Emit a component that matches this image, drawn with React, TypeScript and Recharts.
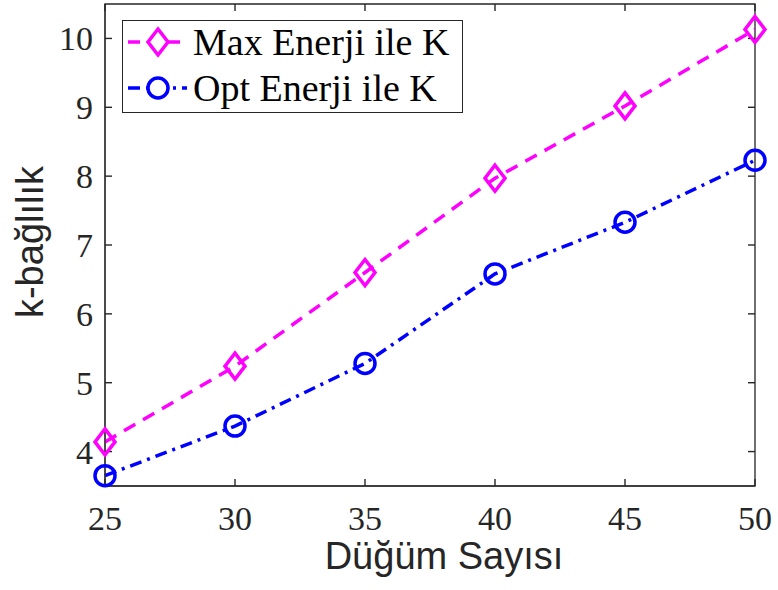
import React from 'react';
import { LineChart, Line, XAxis, YAxis, ReferenceLine, ReferenceArea } from 'recharts';

const nodeCounts = [25, 30, 35, 40, 45, 50];
const maxEnerjiK = [4.14, 5.24, 6.6, 7.97, 9.02, 10.13];
const optEnerjiK = [3.65, 4.37, 5.28, 6.58, 7.33, 8.23];
const xTicks = [25, 30, 35, 40, 45, 50];
const yTicks = [4, 5, 6, 7, 8, 9, 10];
const seriesNames = ['Max Enerji ile K', 'Opt Enerji ile K'];

const X_DOMAIN: [number, number] = [25, 50];
const Y_DOMAIN: [number, number] = [3.5, 10.5];

const data = nodeCounts.map((n, i) => ({ n, maxK: maxEnerjiK[i], optK: optEnerjiK[i] }));

const MAGENTA = '#FF00FF';
const BLUE = '#0000FF';
const AXIS = '#262626';
const SERIF = '"Liberation Serif", "Times New Roman", serif';
const SANS = '"Liberation Sans", Arial, sans-serif';
const TICK_FONT = 34;

const PLOT_W = 650;
const PLOT_H = 482;
const TICK_PX = 7;
const xTickLen = (TICK_PX * (X_DOMAIN[1] - X_DOMAIN[0])) / PLOT_W;
const yTickLen = (TICK_PX * (Y_DOMAIN[1] - Y_DOMAIN[0])) / PLOT_H;

const Diamond = (props: any) => {
  const { cx, cy, index } = props;
  if (cx == null || cy == null) return null;
  return (
    <path
      key={`d-${index}`}
      d={`M${cx},${cy - 13} L${cx + 10},${cy} L${cx},${cy + 13} L${cx - 10},${cy} Z`}
      fill="none"
      stroke={MAGENTA}
      strokeWidth={3.5}
    />
  );
};

const Circ = (props: any) => {
  const { cx, cy, index } = props;
  if (cx == null || cy == null) return null;
  return <circle key={`c-${index}`} cx={cx} cy={cy} r={10} fill="none" stroke={BLUE} strokeWidth={3.5} />;
};

const BottomTick = (props: any) => {
  const { x, y, payload } = props;
  return (
    <text x={x} y={y} dy="0.71em" textAnchor="middle" fontFamily={SERIF} fontSize={TICK_FONT} fill={AXIS}>
      {payload.value}
    </text>
  );
};

const LeftTick = (props: any) => {
  const { x, y, payload } = props;
  return (
    <text x={x} y={y} dy="0.355em" textAnchor="end" fontFamily={SERIF} fontSize={TICK_FONT} fill={AXIS}>
      {payload.value}
    </text>
  );
};

const LegendBox = () => (
  <div
    style={{
      position: 'absolute',
      left: 122,
      top: 20,
      width: 341,
      height: 93,
      boxSizing: 'border-box',
      border: `1.3px solid ${AXIS}`,
      background: '#fff',
    }}
  >
    <svg width={339} height={91} style={{ display: 'block' }}>
      <line x1={5} x2={64} y1={21} y2={21} stroke={MAGENTA} strokeWidth={3.5} strokeDasharray="12 8" />
      <path d="M35,8 L45,21 L35,34 L25,21 Z" fill="#fff" stroke={MAGENTA} strokeWidth={3.5} />
      <text x={70} y={34} fontFamily={SERIF} fontSize={38} fill="#000">{seriesNames[0]}</text>
      <line x1={5} x2={64} y1={67} y2={67} stroke={BLUE} strokeWidth={3.5} strokeDasharray="12 6 3 6" />
      <circle cx={35} cy={67} r={10} fill="#fff" stroke={BLUE} strokeWidth={3.5} />
      <text x={70} y={80} fontFamily={SERIF} fontSize={38} fill="#000">{seriesNames[1]}</text>
    </svg>
  </div>
);

const XTitle = (props: any) => {
  const vb = props.viewBox || {};
  return (
    <text x={vb.x + vb.width / 2 + 14} y={569} textAnchor="middle" fontFamily={SANS} fontSize={38} fill={AXIS}>
      Düğüm Sayısı
    </text>
  );
};

const YTitle = () => {
  const cx = 30;
  const cy = 242;
  return (
    <text
      x={cx}
      y={cy}
      transform={`rotate(-90, ${cx}, ${cy})`}
      textAnchor="middle"
      dominantBaseline="central"
      fontFamily={SANS}
      fontSize={38}
      fill={AXIS}
    >
      k-bağlılık
    </text>
  );
};

export default function App() {
  return (
    <div style={{ position: 'absolute', left: 0, top: 0, width: 778, height: 590, background: '#fff' }}>
      <LineChart width={778} height={590} data={data} margin={{ top: 4, right: 23, left: 0, bottom: 0 }}>
        <XAxis
          xAxisId="b"
          dataKey="n"
          type="number"
          domain={X_DOMAIN}
          ticks={xTicks}
          interval={0}
          height={104}
          stroke={AXIS}
          tickLine={false}
          tickSize={0}
          tickMargin={20}
          tick={<BottomTick />}
          label={<XTitle />}
        />
        <YAxis
          yAxisId="l"
          type="number"
          domain={Y_DOMAIN}
          ticks={yTicks}
          interval={0}
          width={105}
          stroke={AXIS}
          tickLine={false}
          tickSize={0}
          tickMargin={12}
          tick={<LeftTick />}
          label={<YTitle />}
        />
        <ReferenceArea
          xAxisId="b"
          yAxisId="l"
          x1={X_DOMAIN[0]}
          x2={X_DOMAIN[1]}
          y1={Y_DOMAIN[0]}
          y2={Y_DOMAIN[1]}
          fill="none"
          fillOpacity={0}
          stroke={AXIS}
          strokeWidth={1.3}
          strokeOpacity={1}
          ifOverflow="visible"
        />
        {xTicks.map((t) => (
          <ReferenceLine
            key={`xb-${t}`}
            xAxisId="b"
            yAxisId="l"
            segment={[{ x: t, y: Y_DOMAIN[0] }, { x: t, y: Y_DOMAIN[0] + yTickLen }]}
            stroke={AXIS}
            strokeWidth={1.4}
            ifOverflow="visible"
          />
        ))}
        {xTicks.map((t) => (
          <ReferenceLine
            key={`xt-${t}`}
            xAxisId="b"
            yAxisId="l"
            segment={[{ x: t, y: Y_DOMAIN[1] - yTickLen }, { x: t, y: Y_DOMAIN[1] }]}
            stroke={AXIS}
            strokeWidth={1.4}
            ifOverflow="visible"
          />
        ))}
        {yTicks.map((t) => (
          <ReferenceLine
            key={`yl-${t}`}
            xAxisId="b"
            yAxisId="l"
            segment={[{ x: X_DOMAIN[0], y: t }, { x: X_DOMAIN[0] + xTickLen, y: t }]}
            stroke={AXIS}
            strokeWidth={1.4}
            ifOverflow="visible"
          />
        ))}
        {yTicks.map((t) => (
          <ReferenceLine
            key={`yr-${t}`}
            xAxisId="b"
            yAxisId="l"
            segment={[{ x: X_DOMAIN[1] - xTickLen, y: t }, { x: X_DOMAIN[1], y: t }]}
            stroke={AXIS}
            strokeWidth={1.4}
            ifOverflow="visible"
          />
        ))}
        <Line
          xAxisId="b"
          yAxisId="l"
          dataKey="maxK"
          name={seriesNames[0]}
          stroke={MAGENTA}
          strokeWidth={3.5}
          strokeDasharray="13 9"
          dot={<Diamond />}
          isAnimationActive={false}
        />
        <Line
          xAxisId="b"
          yAxisId="l"
          dataKey="optK"
          name={seriesNames[1]}
          stroke={BLUE}
          strokeWidth={3.5}
          strokeDasharray="12 6 3 6"
          dot={<Circ />}
          isAnimationActive={false}
        />
      </LineChart>
      <LegendBox />
    </div>
  );
}
